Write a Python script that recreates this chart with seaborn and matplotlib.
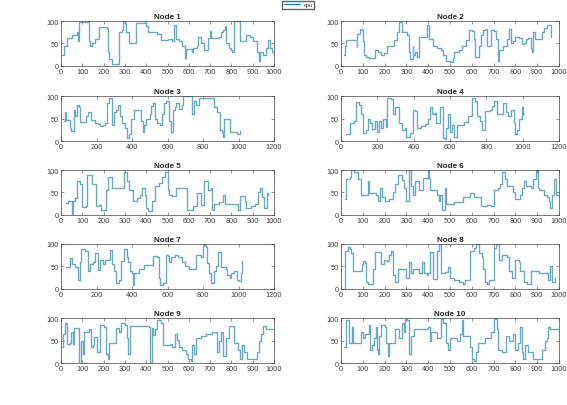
import numpy as np
import pandas as pd
import matplotlib
matplotlib.use("Agg")
import matplotlib.pyplot as plt
import seaborn as sns

# step change points (time, cpu %), one pair of lists per node
node1_t = [5, 15, 30, 50, 75, 80, 85, 125, 130, 138, 145, 160, 180, 215, 220, 225, 240, 262, 270, 285, 290, 300, 305, 320, 340, 350, 395, 400, 410, 450, 470, 500, 520, 530, 540, 555, 570, 583, 587, 600, 615, 620, 640, 645, 655, 670, 690, 700, 705, 740, 750, 760, 770, 775, 790, 800, 805, 810, 835, 840, 870, 885, 900, 920, 928, 933, 950, 960, 970, 980, 990, 1000]
node1_cpu = [25, 45, 62, 70, 75, 55, 97, 97, 55, 45, 52, 60, 87, 85, 30, 15, 5, 5, 75, 80, 97, 95, 75, 50, 50, 95, 97, 90, 75, 72, 58, 60, 55, 92, 60, 55, 45, 17, 38, 38, 30, 40, 45, 65, 50, 35, 62, 78, 62, 65, 75, 80, 90, 50, 40, 35, 30, 100, 100, 55, 70, 65, 55, 30, 10, 30, 25, 40, 58, 40, 30, 25]

node2_t = [15, 18, 25, 70, 73, 75, 85, 95, 100, 105, 115, 130, 150, 155, 170, 185, 195, 210, 235, 245, 255, 265, 280, 305, 310, 318, 328, 332, 340, 350, 360, 390, 395, 405, 420, 440, 460, 470, 480, 500, 515, 520, 540, 555, 575, 585, 600, 610, 615, 635, 640, 650, 665, 670, 690, 700, 710, 720, 725, 745, 760, 770, 780, 790, 800, 815, 830, 840, 850, 860, 870, 875, 880, 890, 910, 920, 930, 945, 960, 962]
node2_cpu = [25, 45, 57, 57, 42, 72, 82, 80, 55, 25, 20, 18, 18, 35, 30, 25, 28, 45, 45, 57, 75, 97, 75, 70, 30, 15, 45, 25, 30, 20, 65, 65, 92, 60, 45, 40, 35, 25, 10, 8, 18, 30, 35, 45, 57, 80, 78, 60, 20, 45, 70, 80, 82, 45, 80, 78, 60, 10, 35, 45, 60, 82, 50, 55, 65, 62, 48, 50, 60, 62, 40, 30, 75, 60, 60, 75, 85, 92, 92, 65]

node3_t = [15, 20, 30, 50, 55, 70, 75, 80, 90, 100, 105, 140, 150, 170, 190, 210, 220, 235, 250, 260, 270, 285, 290, 300, 310, 320, 330, 345, 360, 370, 385, 395, 410, 440, 450, 460, 470, 480, 500, 505, 520, 530, 540, 560, 570, 580, 590, 610, 620, 630, 640, 650, 665, 680, 690, 730, 740, 750, 760, 780, 840, 860, 880, 895, 905, 915, 920, 945, 950, 990, 1010]
node3_cpu = [45, 65, 48, 30, 22, 22, 70, 55, 80, 75, 42, 55, 65, 48, 40, 38, 33, 35, 40, 85, 95, 60, 35, 65, 70, 80, 55, 40, 30, 8, 15, 50, 70, 70, 45, 20, 35, 50, 60, 78, 85, 50, 40, 35, 60, 85, 90, 45, 20, 70, 75, 85, 72, 80, 100, 100, 60, 90, 80, 95, 95, 75, 65, 25, 20, 10, 50, 50, 20, 15, 22]

node4_t = [30, 50, 70, 85, 100, 110, 120, 140, 150, 160, 170, 185, 200, 210, 220, 230, 245, 255, 275, 285, 300, 320, 335, 350, 360, 380, 395, 410, 420, 440, 460, 480, 490, 500, 520, 525, 545, 560, 570, 580, 590, 600, 610, 620, 640, 660, 675, 700, 720, 740, 750, 765, 775, 790, 820, 830, 840, 860, 875, 890, 910, 920, 935, 950, 960, 970, 980, 995, 1000, 1010]
node4_cpu = [15, 40, 45, 88, 80, 60, 18, 25, 50, 40, 28, 45, 20, 45, 30, 50, 32, 95, 93, 60, 75, 40, 25, 30, 10, 18, 70, 68, 30, 33, 38, 50, 75, 60, 62, 40, 75, 8, 5, 30, 60, 20, 35, 10, 35, 35, 42, 55, 95, 90, 55, 45, 25, 68, 70, 78, 90, 60, 60, 85, 65, 55, 70, 40, 15, 25, 50, 75, 60, 60]

node5_t = [25, 35, 50, 55, 65, 75, 90, 100, 115, 120, 140, 145, 165, 180, 190, 210, 220, 240, 290, 295, 310, 320, 340, 355, 370, 380, 395, 400, 410, 425, 440, 460, 475, 490, 500, 505, 520, 540, 580, 590, 610, 620, 640, 655, 670, 690, 705, 710, 720, 740, 760, 770, 820, 830, 840, 865, 870, 890, 910, 925, 935, 945, 955, 965, 970]
node5_cpu = [27, 32, 3, 30, 38, 75, 70, 18, 20, 90, 90, 68, 20, 22, 12, 55, 85, 60, 60, 95, 75, 55, 30, 38, 45, 60, 45, 15, 8, 30, 65, 72, 85, 95, 55, 45, 42, 60, 60, 10, 10, 20, 48, 22, 75, 55, 60, 10, 25, 28, 45, 25, 25, 12, 42, 30, 15, 20, 25, 50, 60, 40, 15, 48, 45]

node6_t = [20, 25, 40, 45, 60, 80, 90, 120, 125, 130, 160, 170, 180, 190, 200, 220, 240, 250, 260, 280, 290, 300, 310, 320, 330, 340, 360, 375, 400, 405, 410, 440, 450, 455, 465, 475, 480, 520, 560, 590, 610, 640, 670, 690, 700, 720, 730, 740, 750, 760, 790, 800, 820, 830, 840, 850, 870, 880, 895, 905, 910, 930, 945, 955, 960, 970, 975, 985, 1000]
node6_cpu = [35, 80, 85, 100, 95, 80, 45, 45, 75, 48, 45, 30, 60, 40, 30, 35, 50, 70, 88, 78, 60, 30, 100, 65, 45, 75, 55, 82, 100, 80, 55, 45, 30, 45, 10, 60, 25, 28, 40, 48, 40, 20, 22, 20, 55, 60, 70, 95, 80, 65, 50, 35, 45, 60, 75, 65, 60, 80, 100, 60, 55, 45, 40, 30, 15, 45, 80, 45, 50]

node7_t = [30, 50, 60, 80, 95, 105, 115, 135, 150, 165, 180, 190, 210, 220, 235, 250, 275, 285, 300, 310, 325, 340, 355, 370, 380, 390, 400, 405, 410, 440, 470, 510, 520, 540, 550, 560, 575, 590, 600, 610, 620, 640, 660, 680, 700, 720, 750, 760, 790, 800, 815, 820, 835, 845, 860, 875, 885, 900, 930, 935, 950, 960, 975, 990, 1005, 1015, 1020]
node7_cpu = [48, 68, 55, 48, 20, 60, 88, 85, 40, 55, 60, 80, 42, 65, 55, 65, 87, 55, 40, 12, 20, 62, 88, 70, 60, 40, 35, 8, 35, 45, 52, 52, 72, 70, 25, 8, 12, 75, 72, 60, 70, 75, 70, 60, 50, 45, 45, 75, 70, 97, 92, 58, 35, 12, 40, 50, 82, 48, 45, 30, 25, 35, 40, 20, 18, 35, 62]

node8_t = [18, 20, 30, 40, 45, 55, 90, 95, 100, 110, 115, 125, 140, 145, 155, 175, 185, 195, 210, 220, 230, 240, 250, 260, 290, 300, 310, 320, 330, 360, 370, 380, 395, 400, 410, 420, 440, 450, 460, 475, 490, 500, 520, 540, 560, 570, 590, 610, 620, 635, 645, 650, 660, 670, 680, 700, 710, 725, 740, 760, 770, 785, 800, 815, 820, 840, 855, 870, 890, 910, 940, 950, 960, 970, 980]
node8_cpu = [0, 85, 92, 88, 80, 40, 40, 55, 62, 58, 15, 10, 10, 45, 82, 82, 55, 65, 62, 75, 85, 30, 15, 45, 45, 25, 60, 35, 45, 35, 60, 35, 30, 35, 82, 22, 85, 100, 35, 38, 48, 25, 20, 15, 10, 20, 85, 90, 100, 80, 70, 45, 15, 10, 20, 90, 100, 65, 75, 70, 40, 25, 65, 60, 40, 15, 10, 40, 40, 35, 35, 20, 50, 15, 25]

node9_t = [5, 10, 20, 30, 40, 45, 55, 60, 80, 85, 95, 105, 110, 130, 140, 150, 155, 170, 185, 200, 210, 220, 225, 250, 260, 270, 280, 300, 310, 315, 325, 415, 420, 425, 430, 440, 450, 470, 480, 510, 520, 535, 545, 555, 570, 585, 595, 610, 615, 625, 635, 655, 680, 710, 730, 740, 750, 760, 775, 790, 810, 830, 840, 850, 860, 875, 900, 920, 930, 940, 950, 960, 998, 1000]
node9_cpu = [35, 65, 90, 42, 45, 68, 42, 78, 78, 0, 50, 20, 70, 75, 35, 40, 57, 25, 85, 80, 20, 10, 45, 45, 78, 70, 90, 85, 55, 20, 82, 80, 0, 78, 62, 75, 95, 90, 40, 42, 35, 65, 52, 35, 30, 20, 10, 5, 40, 20, 55, 60, 65, 68, 25, 50, 70, 15, 55, 82, 45, 30, 10, 40, 25, 10, 10, 25, 50, 65, 82, 75, 75, 70]

node10_t = [15, 25, 35, 50, 55, 80, 90, 100, 110, 130, 135, 140, 150, 160, 165, 170, 175, 185, 200, 205, 215, 220, 250, 265, 280, 290, 295, 305, 310, 320, 335, 380, 400, 410, 415, 440, 460, 470, 480, 490, 500, 530, 545, 555, 560, 580, 590, 600, 610, 620, 630, 660, 690, 700, 715, 720, 740, 755, 770, 790, 800, 810, 820, 830, 835, 845, 860, 880, 910, 920, 935, 945, 950, 960, 998, 1000]
node10_cpu = [35, 95, 45, 80, 45, 45, 70, 55, 65, 85, 30, 40, 55, 80, 30, 20, 60, 85, 80, 45, 15, 45, 75, 55, 90, 70, 98, 95, 20, 60, 75, 75, 80, 50, 70, 55, 98, 90, 45, 30, 55, 50, 65, 95, 60, 60, 35, 10, 5, 25, 45, 55, 70, 98, 75, 30, 25, 60, 50, 65, 30, 45, 80, 25, 10, 40, 25, 10, 10, 30, 50, 55, 80, 75, 75, 65]

nodes = [
    (node1_t, node1_cpu), (node2_t, node2_cpu), (node3_t, node3_cpu), (node4_t, node4_cpu),
    (node5_t, node5_cpu), (node6_t, node6_cpu), (node7_t, node7_cpu), (node8_t, node8_cpu),
    (node9_t, node9_cpu), (node10_t, node10_cpu),
]
x_max = [1000, 1000, 1200, 1200, 1000, 1000, 1200, 1000, 1000, 1000]

sns.set_style("white")
plt.rcParams["font.family"] = ["Liberation Sans", "DejaVu Sans"]

fig = plt.figure(figsize=(5.67, 4.06), dpi=100)

row_bottoms = [0.835, 0.650, 0.468, 0.286, 0.1034]
col_lefts = [0.1076, 0.6014]
col_widths = [0.3757, 0.3845]

for i, (t, cpu) in enumerate(nodes):
    r, c = divmod(i, 2)
    ax = fig.add_axes([col_lefts[c], row_bottoms[r], col_widths[c], 0.1108])
    df = pd.DataFrame({"t": t, "cpu": cpu})
    sns.lineplot(data=df, x="t", y="cpu", ax=ax, color="#2b7bb9", lw=0.9,
                 drawstyle="steps-post", estimator=None, sort=False,
                 label="cpu" if i == 0 else None, legend=False)
    sns.lineplot(data=df, x="t", y="cpu", ax=ax, color="#8cc8bd", lw=0.45,
                 drawstyle="steps-post", estimator=None, sort=False, legend=False)
    ax.set_xlim(0, x_max[i])
    ax.set_ylim(0, 100)
    step = 200 if x_max[i] == 1200 else 100
    ax.set_xticks(np.arange(0, x_max[i] + 1, step))
    ax.set_yticks([0, 50, 100])
    ax.set_xlabel("")
    ax.set_ylabel("")
    ax.set_title(f"Node {i + 1}", fontsize=5.8, fontweight="bold", pad=2)
    ax.tick_params(labelsize=5.3, direction="in", length=2, width=0.4, pad=1.5,
                   top=True, right=True, bottom=True, left=True, colors="#404040")
    for s in ax.spines.values():
        s.set_linewidth(0.5)
        s.set_color("#404040")

h, l = fig.axes[0].get_legend_handles_labels()
fig.legend(h[:1], l[:1], loc="upper left", bbox_to_anchor=(282 / 567, 1 - 1.5 / 406),
           fontsize=4, frameon=True, fancybox=False, edgecolor="#404040",
           handlelength=3, borderpad=0.3, labelspacing=0.2, handletextpad=0.6,
           borderaxespad=0)

fig.savefig("out.png", dpi=100, facecolor="white")
